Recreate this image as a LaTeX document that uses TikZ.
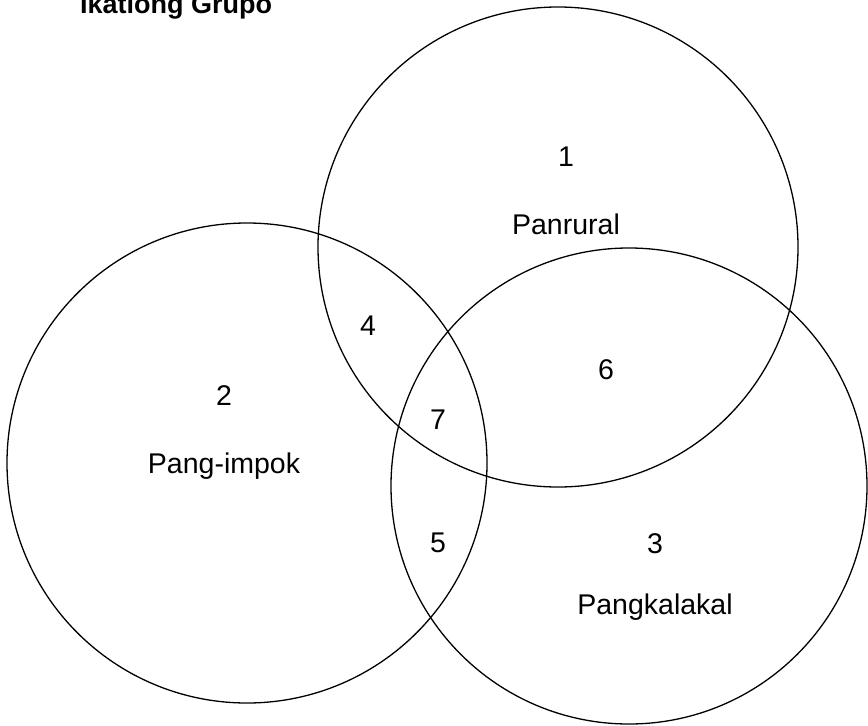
\documentclass[tikz,border=0pt]{standalone}
\usepackage{fontspec}
\setmainfont{Liberation Sans}
\usepackage{tikz}
\tikzset{
  every picture/.style={
    line join=round,
    line cap=round,
  },
  setline/.style={line width=1.3pt},
  region/.style={font=\fontsize{28.5}{34}\selectfont, inner sep=0pt},
}

\begin{document}
\begin{tikzpicture}[x=1pt, y=-1pt]
    \useasboundingbox (0,0) rectangle (868,726);

    % Title
    \node[anchor=base west, inner sep=0pt, font=\fontsize{27}{32}\selectfont\bfseries] (title) at (80,13) {Ikatlong Grupo};

    % The three sets
    \draw[setline] (558,247) circle (240);
    \draw[setline] (247,463) circle (240);
    \draw[setline] (629,486) circle (238);

    % Set names
    \node[region] (name1) at (566,224) {Panrural};
    \node[region] (name2) at (224,466) {Pang-impok};
    \node[region] (name3) at (655,607) {Pangkalakal};

    % Region numbers
    \foreach \n/\x/\y in {1/566/157, 2/224/396, 3/655/544, 4/368/326, 5/438/543, 6/606/370, 7/438/420} {
        \node[region] (num\n) at (\x,\y) {\n};
    }
\end{tikzpicture}
\end{document}
